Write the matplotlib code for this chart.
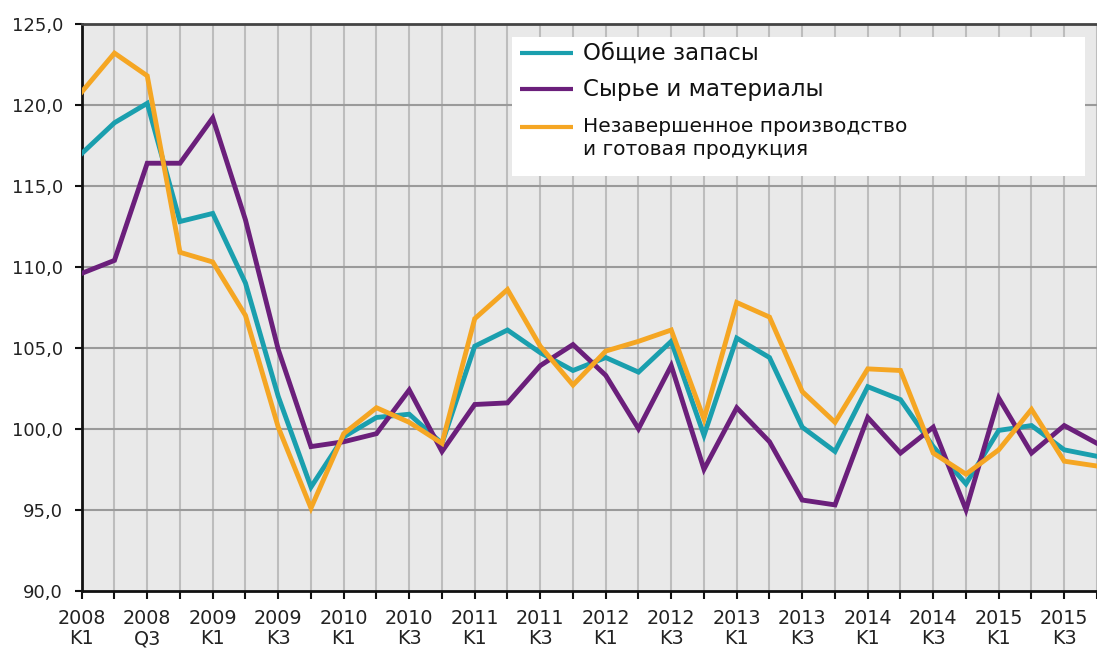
import matplotlib
matplotlib.use("Agg")
import matplotlib.pyplot as plt
from matplotlib.patches import Rectangle
import numpy as np

# quarters 2008 K1 .. 2015 K4
years = list(range(2008, 2016))
quarters = ["K1", "K2", "K3", "K4"]
tick_labels = []
for y in years:
    for q in quarters:
        tick_labels.append(f"{y}\n{q}")
tick_labels[2] = "2008\nQ3"

total = [117.0, 118.9, 120.1, 112.8, 113.3, 109.0, 102.0, 96.4, 99.5, 100.7,
         100.9, 99.1, 105.1, 106.1, 104.7, 103.6, 104.4, 103.5, 105.4, 99.6,
         105.6, 104.4, 100.1, 98.6, 102.6, 101.8, 98.9, 96.6, 99.9, 100.2,
         98.7, 98.3]
materials = [109.6, 110.4, 116.4, 116.4, 119.2, 112.9, 104.9, 98.9, 99.2, 99.7,
             102.4, 98.6, 101.5, 101.6, 103.9, 105.2, 103.3, 100.0, 103.9, 97.5,
             101.3, 99.2, 95.6, 95.3, 100.7, 98.5, 100.1, 95.0, 101.9, 98.5,
             100.2, 99.1]
wip = [120.8, 123.2, 121.8, 110.9, 110.3, 107.0, 100.1, 95.1, 99.7, 101.3,
       100.4, 99.1, 106.8, 108.6, 105.1, 102.7, 104.8, 105.4, 106.1, 100.6,
       107.8, 106.9, 102.3, 100.4, 103.7, 103.6, 98.5, 97.2, 98.7, 101.2,
       98.0, 97.7]

names = ["Общие запасы", "Сырье и материалы", "Незавершенное производство"]
name_extra = "и готовая продукция"
colors = ["#1a9fae", "#6b1f7b", "#f5a623"]

plt.rcParams["font.family"] = ["DejaVu Sans"]

fig = plt.figure(figsize=(10.97, 6.48), dpi=100)
ax = fig.add_axes([0.0745, 0.0884, 0.9255, 0.8746])
ax.set_facecolor("#e9e9e9")

x = np.arange(len(total))
for series, c in zip([total, materials, wip], colors):
    ax.plot(x, series, color=c, lw=3.5, solid_joinstyle="miter", zorder=3)

ax.set_xlim(0, 30.84)
ax.set_ylim(90, 125)
ax.set_yticks(np.arange(90, 126, 5))
ax.set_yticklabels([f"{v:.1f}".replace(".", ",") for v in np.arange(90, 126, 5)],
                   fontsize=13, color="#222222")
ax.set_xticks(x)
ax.set_xticklabels([lab if i % 2 == 0 else "" for i, lab in enumerate(tick_labels)],
                   fontsize=13.8, color="#222222", linespacing=1.05)
ax.tick_params(axis="x", length=6, width=1.5, color="#111111", pad=7.5)
ax.tick_params(axis="y", length=5, width=1.5, color="#111111", pad=8.5)

for xi in x:
    ax.axvline(xi, color="#bdbdbd", lw=1.5, zorder=0.5)
for yv in range(95, 125, 5):
    ax.axhline(yv, color="#9a9a9a", lw=1.5, zorder=0.5)

ax.spines["right"].set_visible(False)
ax.spines["top"].set_color("#444444")
ax.spines["top"].set_linewidth(2)
for s in ["left", "bottom"]:
    ax.spines[s].set_color("#111111")
    ax.spines[s].set_linewidth(2)

# legend box, drawn in axes coordinates
ax.add_patch(Rectangle((0.4238, 0.7318), 0.5644, 0.2453, transform=ax.transAxes,
                       facecolor="white", edgecolor="none", zorder=5))
rows = [0.9493, 0.8847, 0.8188]
sizes = [16.5, 16.5, 14.5]
for yy, name, c, fs in zip(rows, names, colors, sizes):
    ax.plot([0.4317, 0.4836], [yy, yy], transform=ax.transAxes, color=c,
            lw=3, zorder=6, solid_capstyle="butt")
    ax.text(0.4937, yy, name, transform=ax.transAxes, fontsize=fs,
            va="center", ha="left", color="#111111", zorder=6)
ax.text(0.4937, 0.7777, name_extra, transform=ax.transAxes, fontsize=14.5,
        va="center", ha="left", color="#111111", zorder=6)

fig.savefig("out.png", dpi=100)
